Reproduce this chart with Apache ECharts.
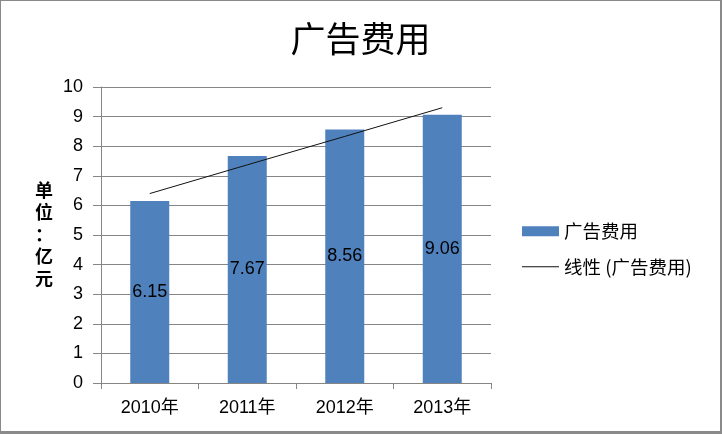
<!DOCTYPE html>
<html>
<head>
<meta charset="utf-8">
<script src="https://cdn.jsdelivr.net/npm/echarts@6/dist/echarts.min.js"></script>
<style>
  html, body { margin: 0; padding: 0; background: #fff; }
  #box { width: 719px; height: 430px; border: 1px solid #8a8a8a; border-right-width: 2px; border-bottom-width: 3px; }
  #chart { width: 719px; height: 430px; }
</style>
</head>
<body>
<div id="box"><div id="chart"></div></div>
<script>
// 数据
var categories = ['2010年', '2011年', '2012年', '2013年']
var costValues = [6.15, 7.67, 8.56, 9.06]
// 线性趋势线
var trendValues = [6.40, 7.37, 8.33, 9.30]
var yTicks = [0, 1, 2, 3, 4, 5, 6, 7, 8, 9, 10]

var latin = '"Liberation Sans", "Noto Sans CJK SC", sans-serif'
var cjk = '"Noto Sans CJK SC", sans-serif'

var myChart = echarts.init(document.getElementById('chart'))

var options = {
  animation: false,
  title: {
    text: '广告费用',
    left: 'center',
    top: 15,
    textStyle: { fontFamily: cjk, fontSize: 35, fontWeight: 'normal', color: '#000' }
  },
  legend: {
    orient: 'vertical',
    left: 516,
    top: 216,
    itemWidth: 37,
    itemHeight: 10,
    itemGap: 17,
    textStyle: { fontFamily: cjk, fontSize: 18.5, color: '#000' },
    data: [
      { name: '广告费用', icon: 'rect' },
      // 趋势线图例只画一条细线
      { name: '线性 (广告费用)', icon: 'path://M0,0L37,0L37,1.2L0,1.2Z', itemStyle: { color: '#111' } }
    ]
  },
  grid: { left: 100, right: 229, top: 86, bottom: 48 },
  graphic: [{
    type: 'text',
    left: 34,
    top: 178,
    style: {
      text: '单\n位\n：\n亿\n元',
      fontFamily: cjk,
      fontSize: 18,
      fontWeight: 'bold',
      lineHeight: 22,
      fill: '#000',
      align: 'center'
    }
  }],
  xAxis: {
    type: 'category',
    data: categories,
    axisLine: { lineStyle: { color: '#868686' } },
    axisTick: { show: true, alignWithLabel: false, length: 6, lineStyle: { color: '#868686' } },
    axisLabel: { fontFamily: latin, fontSize: 18, color: '#000', margin: 16 }
  },
  yAxis: {
    type: 'value',
    min: yTicks[0],
    max: yTicks[yTicks.length - 1],
    interval: 1,
    axisLine: { show: true, lineStyle: { color: '#868686' } },
    axisTick: { show: true, inside: false, length: 8, lineStyle: { color: '#868686' } },
    axisLabel: { fontFamily: latin, fontSize: 18, color: '#000', margin: 18 },
    splitLine: { lineStyle: { color: '#868686', width: 1 } }
  },
  series: [
    {
      name: '广告费用',
      type: 'bar',
      data: costValues,
      barWidth: '40%',
      itemStyle: { color: '#4f81bd' },
      label: {
        show: true,
        position: 'inside',
        fontFamily: latin,
        fontSize: 18,
        color: '#000',
        formatter: function (p) { return p.value.toFixed(2) }
      }
    },
    {
      name: '线性 (广告费用)',
      type: 'line',
      data: trendValues,
      symbol: 'none',
      lineStyle: { color: '#111', width: 1 },
      itemStyle: { color: '#111' },
      z: 5
    }
  ]
}

myChart.setOption(options)
</script>
</body>
</html>
